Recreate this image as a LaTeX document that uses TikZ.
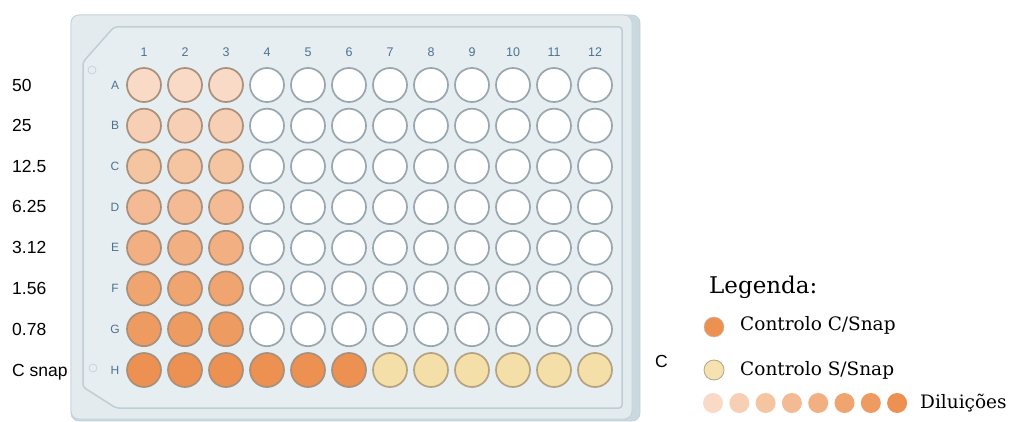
\documentclass[tikz,border=0pt]{standalone}
\usepackage{fontspec}
\setmainfont{DejaVu Serif}
\newfontfamily\labfont{Liberation Sans}
\definecolor{plateout}{HTML}{E3EBEF}
\definecolor{plateedge}{HTML}{C3D2D9}
\definecolor{plateshade}{HTML}{CAD8DF}
\definecolor{plateinner}{HTML}{E7EEF2}
\definecolor{innerline}{HTML}{BFCED6}
\definecolor{lblblue}{HTML}{4A7392}
\definecolor{wellring}{HTML}{98A7AE}
\definecolor{colring}{HTML}{A8907C}
\definecolor{creamring}{HTML}{B3A283}
\definecolor{cA}{HTML}{F8DAC7}
\definecolor{cB}{HTML}{F7CFB4}
\definecolor{cC}{HTML}{F5C4A1}
\definecolor{cD}{HTML}{F3BA93}
\definecolor{cE}{HTML}{F2AF82}
\definecolor{cF}{HTML}{F0A571}
\definecolor{cG}{HTML}{EE9B62}
\definecolor{cH}{HTML}{EC9152}
\definecolor{cream}{HTML}{F5DFA8}
\begin{document}
\begin{tikzpicture}[x=1pt,y=-1pt,
  well/.style={circle, minimum size=34pt, inner sep=0pt, line width=1.7pt, draw=wellring, fill=white},
  cwell/.style={well, draw=colring},
  crwell/.style={well, draw=creamring, fill=cream},
  colnum/.style={font=\labfont\fontsize{12.5}{12.5}\selectfont, text=lblblue, inner sep=0pt},
  rowlet/.style={font=\labfont\fontsize{12}{12}\selectfont, text=lblblue, inner sep=0pt},
  conc/.style={font=\labfont\fontsize{17.5}{17.5}\selectfont, anchor=west, inner sep=0pt},
  legdot/.style={circle, minimum size=20pt, inner sep=0pt, draw=none},
  legtext/.style={font=\fontsize{18.5}{18.5}\selectfont, anchor=west, inner sep=0pt},
  marker/.style={circle, minimum size=8pt, inner sep=0pt, draw=innerline, fill=plateinner, line width=0.6pt}]
\useasboundingbox (0,0) rectangle (1011,422);
\fill[white] (0,0) rectangle (1011,422);
% plate
\filldraw[fill=plateshade, draw=plateedge, line width=0.8pt, rounded corners=8pt] (71,15) rectangle (640,421);
\filldraw[fill=plateout, draw=plateedge, line width=0.8pt, rounded corners=8pt] (71,15) rectangle (632,419);
\filldraw[fill=plateinner, draw=innerline, line width=1.5pt, rounded corners=3pt]
  (83,62) -- (114,27) -- (622,27) -- (622,408) -- (116,408) -- (83,387) -- cycle;
\node[marker] (m1) at (92,70) {};
\node[marker] (m2) at (93,368) {};
% column numbers
\foreach \c in {1,...,12} {
  \node[colnum] (col\c) at ({144+41.0*(\c-1)},52) {\c};
}
% row letters and wells
\foreach \r/\L/\col in {1/A/cA,2/B/cB,3/C/cC,4/D/cD,5/E/cE,6/F/cF,7/G/cG} {
  \node[rowlet] (row\L) at (115,{85+40.7*(\r-1)}) {\L};
  \foreach \c in {1,2,3} {
    \node[cwell, fill=\col] (w\L\c) at ({144+41.0*(\c-1)},{85+40.7*(\r-1)}) {};
  }
  \foreach \c in {4,...,12} {
    \node[well] (w\L\c) at ({144+41.0*(\c-1)},{85+40.7*(\r-1)}) {};
  }
}
\node[rowlet] (rowH) at (115,370) {H};
\foreach \c in {1,...,6} {
  \node[cwell, fill=cH] (wH\c) at ({144+41.0*(\c-1)},370) {};
}
\foreach \c in {7,...,12} {
  \node[crwell] (wH\c) at ({144+41.0*(\c-1)},370) {};
}
% concentrations
\node[conc] (k1) at (12,85) {50};
\node[conc] (k2) at (12,125) {25};
\node[conc] (k3) at (12,166) {12.5};
\node[conc] (k4) at (12,206) {6.25};
\node[conc] (k5) at (12,247) {3.12};
\node[conc] (k6) at (12,288) {1.56};
\node[conc] (k7) at (12,329) {0.78};
\node[conc] (k8) at (12,372) {C snap};
\node[conc] (cc) at (655,361) {C};
% legend
\node[font=\fontsize{23}{23}\selectfont, anchor=west, inner sep=0pt] (leg) at (709,287) {Legenda:};
\node[legdot, fill=cH, draw=colring!60, line width=0.5pt] (ld1) at (714,327) {};
\node[legtext] (lt1) at (740,325) {Controlo C/Snap};
\node[legdot, fill=cream!90!white, draw=creamring, line width=0.8pt] (ld2) at (714,370) {};
\node[legtext] (lt2) at (740,370) {Controlo S/Snap};
\foreach \i/\col in {0/cA,1/cB,2/cC,3/cD,4/cE,5/cF,6/cG,7/cH} {
  \node[legdot, fill=\col] (dd\i) at ({713+26.3*\i},403) {};
}
\node[legtext] (lt3) at (920,403) {Diluições};
\end{tikzpicture}
\end{document}
